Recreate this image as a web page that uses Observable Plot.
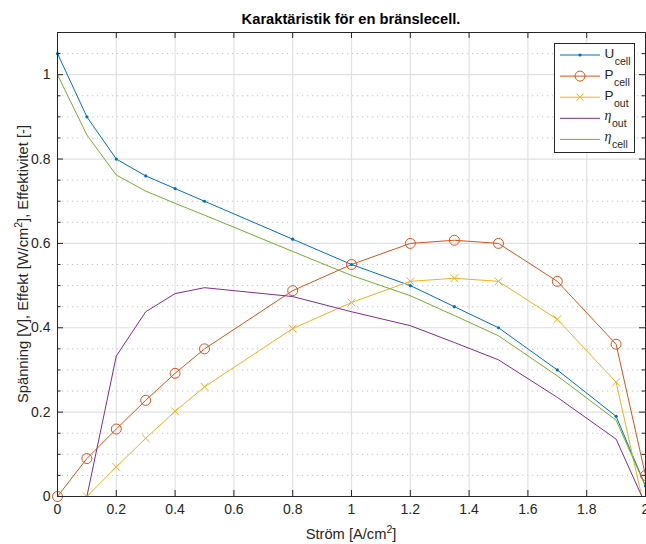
<!DOCTYPE html>
<html><head><meta charset="utf-8">
<script src="https://cdn.jsdelivr.net/npm/d3@7"></script>
<script src="https://cdn.jsdelivr.net/npm/@observablehq/plot@0.6"></script>
<style>body{margin:0;background:#fff} svg{display:block}</style>
</head><body><div id="chart"></div>
<script>
// ---- data ----
const current = [0, 0.1, 0.2, 0.3, 0.4, 0.5, 0.8, 1.0, 1.2, 1.35, 1.5, 1.7, 1.9, 2.0];
const Ucell   = [1.05, 0.90, 0.80, 0.76, 0.73, 0.70, 0.61, 0.55, 0.50, 0.45, 0.40, 0.30, 0.19, 0.025];
const Pcell   = [0, 0.09, 0.16, 0.228, 0.292, 0.35, 0.488, 0.55, 0.60, 0.6075, 0.60, 0.51, 0.361, 0.05];
const Pout    = [-0.09, 0, 0.07, 0.138, 0.202, 0.26, 0.398, 0.46, 0.51, 0.5175, 0.51, 0.42, 0.271, -0.04];
const etaOut  = [null, 0, 0.333, 0.438, 0.481, 0.495, 0.474, 0.438, 0.405, 0.365, 0.324, 0.235, 0.136, -0.019];
const etaCell = [1.0, 0.857, 0.762, 0.724, 0.695, 0.667, 0.581, 0.524, 0.476, 0.429, 0.381, 0.286, 0.181, 0.024];

const seriesKeys = ["Ucell", "Pcell", "Pout", "etaOut", "etaCell"];
const seriesMain = ["U", "P", "P", "η", "η"];
const seriesSub  = ["cell", "cell", "out", "out", "cell"];
const seriesColors = ["#0072BD", "#D95319", "#EDB120", "#7E2F8E", "#77AC30"];
const seriesValues = [Ucell, Pcell, Pout, etaOut, etaCell];

const xTicks = [0, 0.2, 0.4, 0.6, 0.8, 1, 1.2, 1.4, 1.6, 1.8, 2];
const xTickLabels = ["0", "0.2", "0.4", "0.6", "0.8", "1", "1.2", "1.4", "1.6", "1.8", "2"];
const yTicks = [0, 0.2, 0.4, 0.6, 0.8, 1];
const yTickLabels = ["0", "0.2", "0.4", "0.6", "0.8", "1"];
const yMinor = [0.05, 0.1, 0.15, 0.25, 0.3, 0.35, 0.45, 0.5, 0.55, 0.65, 0.7, 0.75, 0.85, 0.9, 0.95, 1.05];

const titleText = "Karaktäristik för en bränslecell.";

// ---- build table ----
const rows = seriesKeys.flatMap((k, si) =>
  current.map((x, i) => ({series: k, x, y: seriesValues[si][i]})).filter(d => d.y != null));
const of = k => rows.filter(d => d.series === k);

const W = 646, H = 544, mL = 57, mR = 1, mT = 32, mB = 48;
const fw = W - mL - mR, fh = H - mT - mB;
const ink = "#262626";
const font = "'Liberation Sans', Arial, Helvetica, sans-serif";

const plot = Plot.plot({
  width: W, height: H,
  marginLeft: mL, marginRight: mR, marginTop: mT, marginBottom: mB,
  style: {fontFamily: font, fontSize: "14px", color: ink, background: "#fff", overflow: "visible"},
  x: {domain: [0, 2], axis: null},
  y: {domain: [0, 1.1], axis: null},
  color: {domain: seriesKeys, range: seriesColors},
  marks: [
    // grid
    Plot.ruleY(yMinor, {stroke: "#c4c4c4", strokeDasharray: "1.2,3.8", strokeWidth: 1}),
    Plot.ruleX(xTicks, {stroke: "#e1e1e1", strokeWidth: 1.2}),
    Plot.ruleY(yTicks, {stroke: "#e1e1e1", strokeWidth: 1.2}),
    // lines
    Plot.line(rows, {x: "x", y: "y", z: "series", stroke: "series", strokeWidth: 1, clip: true}),
    // markers
    Plot.dot(of("Ucell"), {x: "x", y: "y", r: 1.6, fill: "series"}),
    Plot.dot(of("Pcell"), {x: "x", y: "y", r: 5, stroke: "series", fill: "none", strokeWidth: 1}),
    Plot.dot(of("Pout"), {x: "x", y: "y", symbol: "times", r: 3.6, stroke: "series", strokeWidth: 1, clip: true}),
    // frame + ticks
    Plot.frame({stroke: ink, strokeWidth: 1}),
    Plot.ruleX(xTicks, {stroke: ink, insetTop: fh - 6}),
    Plot.ruleX(xTicks, {stroke: ink, insetBottom: fh - 6}),
    Plot.ruleY(yTicks, {stroke: ink, insetRight: fw - 6}),
    Plot.ruleY(yTicks, {stroke: ink, insetLeft: fw - 6}),
    Plot.ruleY(yMinor, {stroke: ink, insetRight: fw - 3.5}),
    Plot.ruleY(yMinor, {stroke: ink, insetLeft: fw - 3.5}),
    // tick labels
    Plot.axisX(xTicks, {anchor: "bottom", tickSize: 0, tickPadding: 8, label: null,
      tickFormat: d => xTickLabels[xTicks.indexOf(d)], fill: ink, fontSize: 14}),
    Plot.axisY(yTicks, {anchor: "left", tickSize: 0, tickPadding: 7, label: null,
      tickFormat: d => yTickLabels[yTicks.indexOf(d)], fill: ink, fontSize: 14})
  ]
});

document.getElementById("chart").appendChild(plot);
const svg = d3.select(plot);

// title
svg.append("text").attr("x", mL + fw / 2).attr("y", 24).attr("text-anchor", "middle")
  .attr("font-family", font).attr("font-weight", "bold").attr("font-size", 14.7).attr("fill", "#000")
  .text(titleText);

// x label
const xl = svg.append("text").attr("x", mL + fw / 2).attr("y", 539).attr("text-anchor", "middle")
  .attr("font-family", font).attr("font-size", 14.7).attr("fill", ink);
xl.append("tspan").text("Ström [A/cm");
xl.append("tspan").attr("font-size", 10.5).attr("dy", -6).text("2");
xl.append("tspan").attr("dy", 6).text("]");

// y label
const yl = svg.append("text").attr("transform", `translate(28,${mT + fh / 2}) rotate(-90)`)
  .attr("text-anchor", "middle").attr("font-family", font).attr("font-size", 14.7).attr("fill", ink);
yl.append("tspan").text("Spänning [V], Effekt [W/cm");
yl.append("tspan").attr("font-size", 10.5).attr("dy", -6).text("2");
yl.append("tspan").attr("dy", 6).text("], Effektivitet [-]");

// legend
const lg = svg.append("g").attr("text-anchor", "start");
lg.append("rect").attr("x", 554.5).attr("y", 43.5).attr("width", 80).attr("height", 109)
  .attr("fill", "#fff").attr("stroke", ink).attr("stroke-width", 1);
seriesKeys.forEach((k, i) => {
  const y = 55 + i * 21.1;
  const c = seriesColors[i];
  lg.append("line").attr("x1", 560).attr("x2", 600).attr("y1", y).attr("y2", y)
    .attr("stroke", c).attr("stroke-width", 1);
  if (k === "Ucell") lg.append("circle").attr("cx", 580).attr("cy", y).attr("r", 1.6).attr("fill", c);
  if (k === "Pcell") lg.append("circle").attr("cx", 580).attr("cy", y).attr("r", 5).attr("fill", "none").attr("stroke", c);
  if (k === "Pout") lg.append("path").attr("d", `M576.5,${y - 3.5}L583.5,${y + 3.5}M576.5,${y + 3.5}L583.5,${y - 3.5}`).attr("stroke", c);
  const isEta = seriesMain[i] === "η";
  const t = lg.append("text").attr("x", 604.5).attr("y", y + (isEta ? 1.5 : 3)).attr("fill", ink)
    .attr("text-anchor", "start").attr("font-family", font).attr("font-size", 13.5);
  t.append("tspan").attr("font-family", isEta ? "'Liberation Serif', 'DejaVu Serif', serif" : font)
    .attr("font-style", isEta ? "italic" : null).attr("font-size", isEta ? 14 : 13.5).text(seriesMain[i]);
  t.append("tspan").attr("font-size", 10.5).attr("dy", isEta ? 7.5 : 7).attr("dx", 0.5).text(seriesSub[i]);
});
</script>
</body></html>
